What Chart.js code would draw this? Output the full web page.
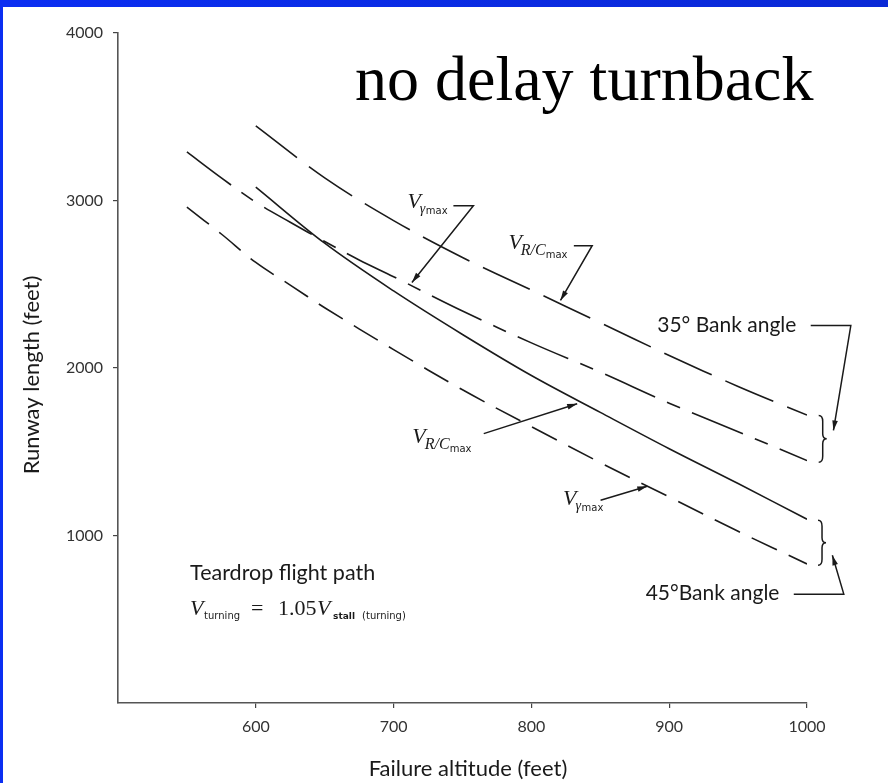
<!DOCTYPE html>
<html>
<head>
<meta charset="utf-8">
<script src="https://cdn.jsdelivr.net/npm/chart.js@4/dist/chart.umd.min.js"></script>
<style>
  html, body { margin: 0; padding: 0; background: #fff; }
  #wrap { position: relative; width: 888px; height: 783px; overflow: hidden; }
  #topbar { position: absolute; left: 0; top: 0; width: 888px; height: 7px; background: linear-gradient(to right, #0b2ef2, #0a29d6); }
  #leftbar { position: absolute; left: 0; top: 0; width: 3px; height: 783px; background: #0b2ef2; }
</style>
</head>
<body>
<div id="wrap">
  <canvas id="chart" width="888" height="783"></canvas>
  <div id="topbar"></div>
  <div id="leftbar"></div>
</div>
<script>
// failure altitude (ft) / runway length (ft)
const altR35 = [600, 650, 700, 750, 800, 850, 900, 950, 1000];
const runR35 = [3445, 3135, 2880, 2660, 2465, 2270, 2075, 1890, 1719];

const altG35 = [550, 575, 600, 625, 650, 675, 700, 750, 800, 850, 900, 950, 1000];
const runG35 = [3290, 3135, 2990, 2870, 2755, 2645, 2545, 2340, 2150, 1975, 1790, 1620, 1447];

const altR45 = [600, 650, 700, 750, 800, 850, 900, 950, 1000];
const runR45 = [3080, 2745, 2460, 2200, 1955, 1735, 1518, 1310, 1097];

const altG45 = [550, 575, 600, 625, 650, 700, 750, 800, 850, 900, 950, 1000];
const runG45 = [2960, 2800, 2630, 2495, 2360, 2110, 1870, 1650, 1435, 1230, 1025, 830];

const xTicks = [600, 700, 800, 900, 1000];
const yTicks = [1000, 2000, 3000, 4000];

const ink = '#1a1a1a';
const sans = 'Lato';
const serif = '"Liberation Serif"';

function pts(xs, ys) {
    return xs.map((v, i) => ({x: v, y: ys[i]}));
}

function curve(label, xs, ys, dash) {
    return {
        label: label,
        data: pts(xs, ys),
        showLine: true,
        borderColor: ink,
        borderWidth: 1.6,
        borderDash: dash,
        pointRadius: 0,
        tension: 0.35
    };
}

// annotation helpers
function arrowHead(ctx, x0, y0, x1, y1) {
    var a = Math.atan2(y1 - y0, x1 - x0);
    var len = 10, half = 2.8;
    ctx.beginPath();
    ctx.moveTo(x1, y1);
    ctx.lineTo(x1 - len * Math.cos(a) + half * Math.sin(a), y1 - len * Math.sin(a) - half * Math.cos(a));
    ctx.lineTo(x1 - len * Math.cos(a) - half * Math.sin(a), y1 - len * Math.sin(a) + half * Math.cos(a));
    ctx.closePath();
    ctx.fill();
}

function leader(ctx, p) {
    ctx.beginPath();
    ctx.moveTo(p[0][0], p[0][1]);
    for (var i = 1; i < p.length; i++) ctx.lineTo(p[i][0], p[i][1]);
    ctx.stroke();
    var n = p.length;
    arrowHead(ctx, p[n - 2][0], p[n - 2][1], p[n - 1][0], p[n - 1][1]);
}

function brace(ctx, x, y1, y2) {
    var m = (y1 + y2) / 2;
    ctx.beginPath();
    ctx.moveTo(x, y1);
    ctx.quadraticCurveTo(x + 4, y1, x + 4, y1 + 6);
    ctx.lineTo(x + 4, m - 5);
    ctx.quadraticCurveTo(x + 4, m, x + 8, m);
    ctx.quadraticCurveTo(x + 4, m, x + 4, m + 5);
    ctx.lineTo(x + 4, y2 - 6);
    ctx.quadraticCurveTo(x + 4, y2, x, y2);
    ctx.stroke();
}

function vLabel(ctx, x, y, kind) {
    ctx.textAlign = 'left';
    ctx.textBaseline = 'alphabetic';
    ctx.font = 'italic 22px ' + serif;
    ctx.fillText('V', x, y);
    var w = ctx.measureText('V').width;
    if (kind === 'g') {
        ctx.font = 'italic 14px ' + serif;
        ctx.fillText('\u03b3', x + w - 1, y + 5);
        ctx.font = '10px "DejaVu Sans"';
        ctx.fillText('max', x + w + 5, y + 6);
    } else {
        ctx.font = 'italic 16px ' + serif;
        ctx.fillText('R/C', x + w - 1, y + 6);
        var w2 = ctx.measureText('R/C').width;
        ctx.font = '10px "DejaVu Sans"';
        ctx.fillText('max', x + w + w2 - 1, y + 9);
    }
}

const notes = {
    id: 'notes',
    afterDraw(chart) {
        const ctx = chart.ctx;
        const X = v => chart.scales.x.getPixelForValue(v);
        const Y = v => chart.scales.y.getPixelForValue(v);
        ctx.save();
        ctx.fillStyle = ink;
        ctx.strokeStyle = ink;
        ctx.lineWidth = 1.5;

        // title
        ctx.textAlign = 'left';
        ctx.textBaseline = 'alphabetic';
        ctx.font = '64px ' + serif;
        ctx.fillStyle = '#000';
        ctx.fillText('no delay turnback', 355, 100);
        ctx.fillStyle = ink;

        // axis titles
        ctx.font = '22px ' + sans;
        ctx.textAlign = 'center';
        ctx.fillText('Failure altitude (feet)', 468, 776);
        ctx.save();
        ctx.translate(39, 375);
        ctx.rotate(-Math.PI / 2);
        ctx.fillText('Runway length (feet)', 0, 0);
        ctx.restore();

        // curve labels
        vLabel(ctx, X(710), Y(2957), 'g');
        leader(ctx, [[X(743.4), Y(2969)], [X(757.9), Y(2969)], [X(713.3), Y(2511)]]);

        vLabel(ctx, X(783.3), Y(2712), 'r');
        leader(ctx, [[X(830.8), Y(2730)], [X(844.1), Y(2730)], [X(821.1), Y(2403)]]);

        vLabel(ctx, X(713.6), Y(1550), 'r');
        leader(ctx, [[X(765.4), Y(1608)], [X(833.2), Y(1787)]]);

        vLabel(ctx, X(823), Y(1180), 'g');
        leader(ctx, [[X(850.2), Y(1210)], [X(884.1), Y(1294)]]);

        // bank angle groups
        ctx.textAlign = 'left';
        ctx.font = '21px ' + sans;
        ctx.fillText('35\u00b0 Bank angle', X(891.3), Y(2213));
        leader(ctx, [[X(1002.7), Y(2253)], [X(1031.8), Y(2253)], [X(1019.2), Y(1627)]]);
        brace(ctx, X(1008.5), Y(1717), Y(1437));

        ctx.fillText('45\u00b0Bank angle', X(882.9), Y(614));
        leader(ctx, [[X(990.4), Y(650)], [X(1026.7), Y(650)], [X(1018.4), Y(882)]]);
        brace(ctx, X(1008), Y(1091), Y(823));

        // conditions
        ctx.font = '21.5px ' + sans;
        ctx.fillText('Teardrop flight path', X(552.3), Y(733));
        var fx = X(552.3), fy = Y(525);
        ctx.font = 'italic 22px ' + serif;
        ctx.fillText('V', fx, fy);
        ctx.font = '10px "DejaVu Sans"';
        ctx.fillText('turning', fx + 14, fy + 4);
        ctx.font = '22px ' + serif;
        ctx.fillText('=', fx + 61, fy);
        ctx.fillText('1.05', fx + 88, fy);
        ctx.font = 'italic 22px ' + serif;
        ctx.fillText('V', fx + 127, fy);
        ctx.font = 'bold 9px "DejaVu Sans"';
        ctx.fillText('stall', fx + 143, fy + 4);
        ctx.font = '10px "DejaVu Sans"';
        ctx.fillText('(turning)', fx + 172, fy + 4);

        ctx.restore();
    }
};

new Chart(document.getElementById('chart'), {
    type: 'scatter',
    data: {
        datasets: [
            curve('35\u00b0 V R/C max', altR35, runR35, [52, 15]),
            curve('35\u00b0 V gamma max', altG35, runG35, [55, 13, 14, 13]),
            curve('45\u00b0 V R/C max', altR45, runR45, []),
            curve('45\u00b0 V gamma max', altG45, runG45, [28, 13])
        ]
    },
    options: {
        responsive: false,
        animation: false,
        layout: {padding: {top: 33, right: 81, left: 0, bottom: 0}},
        plugins: {
            legend: {display: false},
            tooltip: {enabled: false}
        },
        scales: {
            x: {
                type: 'linear',
                min: 500,
                max: 1000,
                afterBuildTicks: s => { s.ticks = xTicks.map(v => ({value: v})); },
                afterFit: s => { s.height = 80; },
                ticks: {
                    color: '#333',
                    font: {family: sans, size: 16},
                    padding: 9,
                    maxRotation: 0,
                    callback: v => String(v)
                },
                grid: {drawOnChartArea: false, tickLength: 5, color: '#444', lineWidth: 1.2},
                border: {color: '#555', width: 1.6}
            },
            y: {
                type: 'linear',
                min: 0,
                max: 4000,
                afterBuildTicks: s => { s.ticks = yTicks.map(v => ({value: v})); },
                afterFit: s => { s.width = 118; },
                ticks: {
                    color: '#333',
                    font: {family: sans, size: 16},
                    padding: 10,
                    callback: v => String(v)
                },
                grid: {drawOnChartArea: false, tickLength: 5, color: '#444', lineWidth: 1.2},
                border: {color: '#555', width: 1.6}
            }
        }
    },
    plugins: [notes]
});
</script>
</body>
</html>
